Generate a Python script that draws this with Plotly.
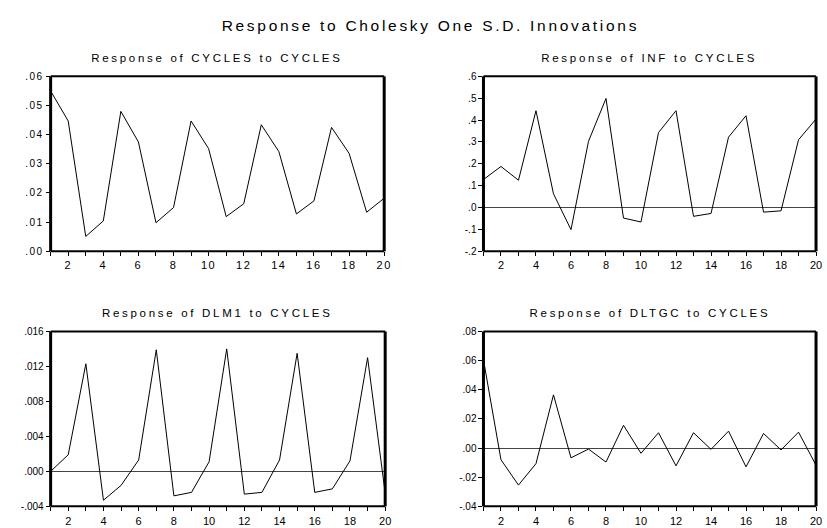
import plotly.graph_objects as go

periods = list(range(1, 21))

cycles_to_cycles = [0.0550, 0.0447, 0.0051, 0.0104, 0.0480, 0.0375, 0.0098, 0.0150, 0.0447, 0.0352,
                    0.0119, 0.0163, 0.0434, 0.0342, 0.0128, 0.0173, 0.0425, 0.0336, 0.0134, 0.0182]
inf_to_cycles = [0.128, 0.188, 0.125, 0.443, 0.063, -0.101, 0.303, 0.499, -0.048, -0.066,
                 0.343, 0.443, -0.040, -0.027, 0.322, 0.420, -0.021, -0.015, 0.310, 0.405]
dlm1_to_cycles = [0.0000, 0.0019, 0.0123, -0.0033, -0.0016, 0.0013, 0.0139, -0.0028, -0.0024, 0.0011,
                  0.0140, -0.0026, -0.0024, 0.0013, 0.0135, -0.0024, -0.0020, 0.0012, 0.0130, -0.0025]
dltgc_to_cycles = [0.0606, -0.0080, -0.0254, -0.0107, 0.0365, -0.0067, -0.0007, -0.0096, 0.0156, -0.0036,
                   0.0105, -0.0122, 0.0105, -0.0009, 0.0116, -0.0129, 0.0100, -0.0013, 0.0109, -0.0118]

titles = ["Response of CYCLES to CYCLES", "Response of INF to CYCLES",
          "Response of DLM1 to CYCLES", "Response of DLTGC to CYCLES"]

y1_vals = [0.00, 0.01, 0.02, 0.03, 0.04, 0.05, 0.06]
y1_text = [".00", ".01", ".02", ".03", ".04", ".05", ".06"]
y2_vals = [-0.2, -0.1, 0.0, 0.1, 0.2, 0.3, 0.4, 0.5, 0.6]
y2_text = ["-.2", "-.1", ".0", ".1", ".2", ".3", ".4", ".5", ".6"]
y3_vals = [-0.004, 0.0, 0.004, 0.008, 0.012, 0.016]
y3_text = ["-.004", ".000", ".004", ".008", ".012", ".016"]
y4_vals = [-0.04, -0.02, 0.00, 0.02, 0.04, 0.06, 0.08]
y4_text = ["-.04", "-.02", ".00", ".02", ".04", ".06", ".08"]

x_text = [str(p) if p % 2 == 0 else "" for p in periods]

W, H = 827, 528
panels = [
    dict(y=cycles_to_cycles, yv=y1_vals, yt=y1_text, xd=(51, 387), yd=(72, 251), zero=False),
    dict(y=inf_to_cycles, yv=y2_vals, yt=y2_text, xd=(487, 822), yd=(72, 251), zero=True),
    dict(y=dlm1_to_cycles, yv=y3_vals, yt=y3_text, xd=(51, 388), yd=(333, 512), zero=True),
    dict(y=dltgc_to_cycles, yv=y4_vals, yt=y4_text, xd=(487, 822), yd=(333, 512), zero=True),
]

fig = go.Figure()
font = "Liberation Sans, Arial, sans-serif"
layout = dict(
    width=W, height=H, margin=dict(l=0, r=0, t=0, b=0),
    paper_bgcolor="white", plot_bgcolor="white", showlegend=False,
    font=dict(family=font, color="black", size=11),
)
annotations = [dict(text="Response to Cholesky One S.D. Innovations", x=434 / W, y=1 - 20 / H,
                    xref="paper", yref="paper", showarrow=False, xanchor="center", yanchor="middle",
                    font=dict(size=15.5, family=font, color="black"))]
shapes = []
for i, p in enumerate(panels):
    n = "" if i == 0 else str(i + 1)
    fig.add_trace(go.Scatter(x=periods, y=p["y"], mode="lines", line=dict(color="black", width=1),
                             xaxis="x" + n, yaxis="y" + n, hoverinfo="skip"))
    xd = [p["xd"][0] / W, p["xd"][1] / W]
    yd = [1 - p["yd"][1] / H, 1 - p["yd"][0] / H]
    layout["xaxis" + n] = dict(domain=xd, anchor="y" + n, range=[1, 20], tickvals=periods, ticktext=x_text,
                               ticks="outside", ticklen=4, tickcolor="black", showgrid=False,
                               zeroline=False, showline=False, tickfont=dict(size=11))
    layout["yaxis" + n] = dict(domain=yd, anchor="x" + n, range=[p["yv"][0], p["yv"][-1]],
                               tickvals=p["yv"], ticktext=p["yt"], ticks="outside", ticklen=4,
                               tickcolor="black", showgrid=False, zeroline=p["zero"],
                               zerolinecolor="#444", zerolinewidth=1, showline=False,
                               tickfont=dict(size=10))
    annotations.append(dict(text=titles[i], x=(xd[0] + xd[1]) / 2, y=yd[1] + 19 / H,
                            xref="paper", yref="paper", showarrow=False, xanchor="center",
                            yanchor="middle", font=dict(size=11.5, family=font, color="black")))
    xr, yr = "x" + n + " domain", "y" + n + " domain"
    for (x0, y0, x1, y1, w) in [(0, 0, 0, 1, 3), (1, 0, 1, 1, 3), (0, 1, 1, 1, 2), (0, 0, 1, 0, 2)]:
        shapes.append(dict(type="line", xref=xr, yref=yr, x0=x0, y0=y0, x1=x1, y1=y1,
                           line=dict(color="black", width=w), layer="above"))

layout["annotations"] = annotations
layout["shapes"] = shapes
fig.update_layout(**layout)

css = (".annotation-text{letter-spacing:2.7px;}"
       ".annotation:first-of-type .annotation-text{letter-spacing:2px;}"
       ".xtick text,.ytick text{letter-spacing:1.5px;}")
post = ("document.body.style.margin='0';document.body.style.padding='0';"
        "document.body.style.overflow='hidden';"
        "var s=document.createElement('style');s.textContent='" + css + "';"
        "document.head.appendChild(s);")
fig.write_html("out.html", config={"displayModeBar": False}, post_script=post)
